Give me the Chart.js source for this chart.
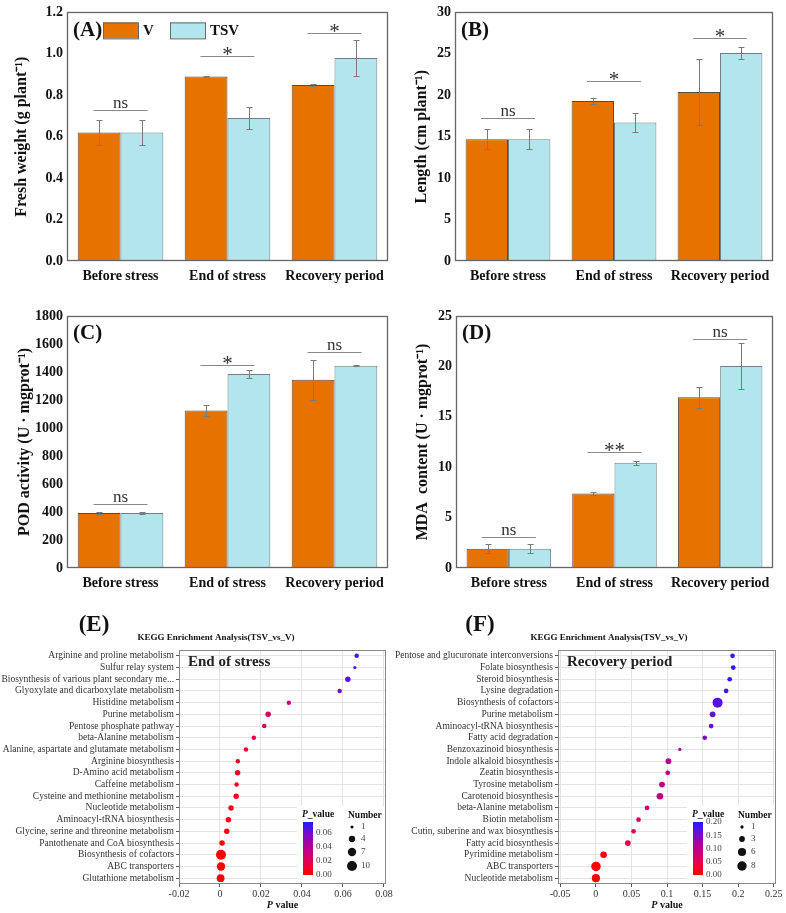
<!DOCTYPE html>
<html>
<head>
<meta charset="utf-8">
<script src="https://cdn.jsdelivr.net/npm/chart.js@4.4.1/dist/chart.umd.min.js"></script>
<style>
html, body { margin: 0; padding: 0; background: #fff; }
#page { position: relative; width: 786px; height: 913px; overflow: hidden; }
canvas { position: absolute; }
</style>
</head>
<body>
<div id="page">
  <canvas id="chartA" width="393" height="292" style="left:0;top:0"></canvas>
  <canvas id="chartB" width="393" height="292" style="left:393px;top:0"></canvas>
  <canvas id="chartC" width="393" height="300" style="left:0;top:300px"></canvas>
  <canvas id="chartD" width="393" height="300" style="left:393px;top:300px"></canvas>
  <canvas id="chartE" width="400" height="313" style="left:0;top:600px"></canvas>
  <canvas id="chartF" width="393" height="313" style="left:393px;top:600px"></canvas>
</div>
<script>
const SERIF = "'Liberation Serif', 'Times New Roman', serif";
const orange = '#E67200';
const lightBlue = '#B3E5EC';

// Shared categories
const groups = ['Before stress', 'End of stress', 'Recovery period'];
const seriesNames = ['V', 'TSV'];

// (A) Fresh weight
const weightV = [0.62, 0.89, 0.85];
const weightVErr = [0.06, 0.003, 0.005];
const weightTSV = [0.62, 0.69, 0.98];
const weightTSVErr = [0.06, 0.055, 0.085];
const weightSig = ['ns', '*', '*'];
const weightSigAt = [0.73, 0.99, 1.10];

// (B) Length
const lengthV = [14.7, 19.3, 20.4];
const lengthVErr = [1.2, 0.35, 4.0];
const lengthTSV = [14.7, 16.7, 25.1];
const lengthTSVErr = [1.2, 1.1, 0.7];
const lengthSig = ['ns', '*', '*'];
const lengthSigAt = [17.3, 21.7, 26.9];

// (C) POD activity
const podV = [393, 1125, 1345];
const podVErr = [5, 37, 143];
const podTSV = [393, 1385, 1445];
const podTSVErr = [5, 29, 5];
const podSig = ['ns', '*', 'ns'];
const podSigAt = [460, 1450, 1543];

// (D) MDA content
const mdaV = [1.9, 7.4, 16.95];
const mdaVErr = [0.45, 0.15, 1.05];
const mdaTSV = [1.9, 10.43, 20.03];
const mdaTSVErr = [0.45, 0.2, 2.25];
const mdaSig = ['ns', '**', 'ns'];
const mdaSigAt = [3.08, 11.46, 22.68];

// (E) KEGG, end of stress
const endPathways = [
  'Arginine and proline metabolism',
  'Sulfur relay system',
  'Biosynthesis of various plant secondary me...',
  'Glyoxylate and dicarboxylate metabolism',
  'Histidine metabolism',
  'Purine metabolism',
  'Pentose phosphate pathway',
  'beta-Alanine metabolism',
  'Alanine, aspartate and glutamate metabolism',
  'Arginine biosynthesis',
  'D-Amino acid metabolism',
  'Caffeine metabolism',
  'Cysteine and methionine metabolism',
  'Nucleotide metabolism',
  'Aminoacyl-tRNA biosynthesis',
  'Glycine, serine and threonine metabolism',
  'Pantothenate and CoA biosynthesis',
  'Biosynthesis of cofactors',
  'ABC transporters',
  'Glutathione metabolism'
];
const endPValue = [0.0667, 0.0658, 0.0624, 0.0584, 0.0336, 0.0235, 0.0216, 0.0165, 0.0127, 0.0087,
  0.0086, 0.0081, 0.0079, 0.0054, 0.0041, 0.0033, 0.0010, 0.0005, 0.0005, 0.0003];
const endCount = [2, 1, 3, 2, 2, 3, 2, 2, 2, 2, 3, 2, 3, 3, 3, 3, 3, 10, 7, 6];
const endColorTicks = [0, 0.02, 0.04, 0.06];
const endSizeTicks = [1, 4, 7, 10];

// (F) KEGG, recovery period
const recPathways = [
  'Pentose and glucuronate interconversions',
  'Folate biosynthesis',
  'Steroid biosynthesis',
  'Lysine degradation',
  'Biosynthesis of cofactors',
  'Purine metabolism',
  'Aminoacyl-tRNA biosynthesis',
  'Fatty acid degradation',
  'Benzoxazinoid biosynthesis',
  'Indole alkaloid biosynthesis',
  'Zeatin biosynthesis',
  'Tyrosine metabolism',
  'Carotenoid biosynthesis',
  'beta-Alanine metabolism',
  'Biotin metabolism',
  'Cutin, suberine and wax biosynthesis',
  'Fatty acid biosynthesis',
  'Pyrimidine metabolism',
  'ABC transporters',
  'Nucleotide metabolism'
];
const recPValue = [0.192, 0.193, 0.188, 0.183, 0.171, 0.164, 0.162, 0.153, 0.118, 0.102,
  0.101, 0.093, 0.090, 0.072, 0.060, 0.053, 0.045, 0.011, 0.0003, 0.0002];
const recCount = [2, 2, 2, 2, 9, 3, 2, 2, 1, 3, 2, 3, 4, 2, 2, 2, 3, 4, 8, 6];
const recColorTicks = [0, 0.05, 0.10, 0.15, 0.20];
const recSizeTicks = [1, 3, 6, 8];

// red -> blue gradient for p values
const pStops = [[0, [255, 0, 0]], [0.25, [226, 0, 82]], [0.5, [186, 0, 140]], [0.75, [128, 10, 196]], [1, [30, 30, 255]]];
function pColor(t) {
  t = Math.max(0, Math.min(1, t));
  for (let i = 1; i < pStops.length; i++) {
    if (t <= pStops[i][0]) {
      const [t0, c0] = pStops[i - 1], [t1, c1] = pStops[i];
      const f = (t - t0) / (t1 - t0);
      const c = c0.map((v, k) => Math.round(v + (c1[k] - v) * f));
      return `rgb(${c[0]},${c[1]},${c[2]})`;
    }
  }
  return 'rgb(30,30,255)';
}

// Plugins
const framePlugin = (color, width) => ({
  id: 'frame',
  afterDraw(chart) {
    const { ctx, chartArea: a } = chart;
    ctx.save();
    ctx.strokeStyle = color;
    ctx.lineWidth = width;
    ctx.strokeRect(Math.round(a.left) + 0.5, Math.round(a.top) + 0.5, Math.round(a.right - a.left) - 1, Math.round(a.bottom - a.top) - 1);
    ctx.restore();
  }
});

const errorBarPlugin = {
  id: 'errorBars',
  afterDatasetsDraw(chart) {
    const { ctx } = chart;
    const y = chart.scales.y;
    ctx.save();
    ctx.strokeStyle = '#7a7a7a';
    ctx.lineWidth = 1;
    chart.data.datasets.forEach((ds, di) => {
      chart.getDatasetMeta(di).data.forEach((bar, i) => {
        const v = ds.data[i], e = ds.errors[i];
        const top = Math.round(y.getPixelForValue(v + e)) + 0.5;
        const bot = Math.round(y.getPixelForValue(v - e)) + 0.5;
        const x = Math.round(bar.x) + 0.5;
        ctx.beginPath();
        ctx.moveTo(x, top); ctx.lineTo(x, bot);
        ctx.moveTo(x - 3, top); ctx.lineTo(x + 3, top);
        ctx.moveTo(x - 3, bot); ctx.lineTo(x + 3, bot);
        ctx.stroke();
      });
    });
    ctx.restore();
  }
};

function sigPlugin(labels, heights) {
  return {
    id: 'sig',
    afterDatasetsDraw(chart) {
      const { ctx, scales: { x, y } } = chart;
      ctx.save();
      labels.forEach((lab, i) => {
        const cx = x.getPixelForValue(i);
        const ly = Math.round(y.getPixelForValue(heights[i])) + 0.5;
        ctx.strokeStyle = '#8a8a8a';
        ctx.lineWidth = 1;
        ctx.beginPath();
        ctx.moveTo(cx - 27, ly); ctx.lineTo(cx + 27, ly);
        ctx.stroke();
        ctx.fillStyle = '#333';
        ctx.textAlign = 'center';
        ctx.textBaseline = 'alphabetic';
        if (lab === 'ns') {
          ctx.font = '17px ' + SERIF;
          ctx.fillText(lab, cx, ly - 2.5);
        } else {
          ctx.font = '21px ' + SERIF;
          ctx.fillText(lab, cx, ly + 4.5);
        }
      });
      ctx.restore();
    }
  };
}

function panelLabel(text, withLegend) {
  return {
    id: 'panelLabel',
    afterDraw(chart) {
      const { ctx, chartArea: a } = chart;
      ctx.save();
      ctx.fillStyle = '#111';
      ctx.textBaseline = 'middle';
      ctx.textAlign = 'left';
      ctx.font = 'bold 21px ' + SERIF;
      ctx.fillText(text, a.left + 6, a.top + 18);
      if (withLegend) {
        const boxes = [a.left + 36, a.left + 103];
        chart.data.datasets.forEach((ds, i) => {
          ctx.fillStyle = ds.backgroundColor;
          ctx.fillRect(boxes[i], a.top + 10, 35, 16);
          ctx.strokeStyle = '#666';
          ctx.lineWidth = 1;
          ctx.strokeRect(boxes[i] + 0.5, a.top + 10.5, 35, 16);
          ctx.fillStyle = '#111';
          ctx.font = 'bold 15px ' + SERIF;
          ctx.fillText(ds.label, boxes[i] + 40, a.top + 19);
        });
      }
      ctx.restore();
    }
  };
}

function barChart(id, cfg) {
  return new Chart(document.getElementById(id), {
    type: 'bar',
    data: {
      labels: groups,
      datasets: [
        { label: seriesNames[0], data: cfg.v, errors: cfg.vErr, backgroundColor: orange, borderColor: '#5d4a3c', borderWidth: 1 },
        { label: seriesNames[1], data: cfg.tsv, errors: cfg.tsvErr, backgroundColor: lightBlue, borderColor: '#6f7f83', borderWidth: 1 }
      ]
    },
    options: {
      responsive: false,
      animation: false,
      events: [],
      layout: { padding: cfg.pad },
      datasets: { bar: { categoryPercentage: 0.8, barPercentage: 1.0 } },
      plugins: { legend: { display: false }, tooltip: { enabled: false } },
      scales: {
        x: {
          grid: { display: false, drawTicks: false },
          border: { display: false },
          ticks: { color: '#111', font: { family: SERIF, weight: 'bold', size: 14 }, padding: 7, maxRotation: 0, autoSkip: false },
          afterFit: s => { s.height = cfg.xHeight; }
        },
        y: {
          min: 0, max: cfg.max,
          grid: { display: false, drawTicks: false },
          border: { display: false },
          ticks: { stepSize: cfg.step, color: '#111', font: { family: SERIF, weight: 'bold', size: 14 }, padding: 4,
            callback: v => Number(v).toFixed(cfg.dec) },
          title: { display: true, text: cfg.title, color: '#111', font: { family: SERIF, weight: 'bold', size: 16 },
            padding: { top: cfg.titlePad, bottom: 0 } },
          afterFit: s => { s.width = cfg.yWidth; }
        }
      }
    },
    plugins: [errorBarPlugin, sigPlugin(cfg.sig, cfg.sigAt), panelLabel(cfg.label, cfg.legend), framePlugin('#666', 1.3)]
  });
}

barChart('chartA', {
  v: weightV, vErr: weightVErr, tsv: weightTSV, tsvErr: weightTSVErr, sig: weightSig, sigAt: weightSigAt,
  max: 1.2, step: 0.2, dec: 1, title: 'Fresh weight (g plant\u207B\u00B9)', titlePad: 12,
  pad: { top: 10, right: 5, left: 0, bottom: 0 }, xHeight: 31, yWidth: 67, label: '(A)', legend: true
});
barChart('chartB', {
  v: lengthV, vErr: lengthVErr, tsv: lengthTSV, tsvErr: lengthTSVErr, sig: lengthSig, sigAt: lengthSigAt,
  max: 30, step: 5, dec: 0, title: 'Length (cm plant\u207B\u00B9)', titlePad: 19,
  pad: { top: 10, right: 13, left: 0, bottom: 0 }, xHeight: 31, yWidth: 62, label: '(B)'
});
barChart('chartC', {
  v: podV, vErr: podVErr, tsv: podTSV, tsvErr: podTSVErr, sig: podSig, sigAt: podSigAt,
  max: 1800, step: 200, dec: 0, title: 'POD activity (U \u00B7 mgprot\u207B\u00B9)', titlePad: 15,
  pad: { top: 16, right: 5, left: 0, bottom: 0 }, xHeight: 32, yWidth: 67, label: '(C)'
});
barChart('chartD', {
  v: mdaV, vErr: mdaVErr, tsv: mdaTSV, tsvErr: mdaTSVErr, sig: mdaSig, sigAt: mdaSigAt,
  max: 25, step: 5, dec: 0, title: 'MDA  content (U \u00B7 mgprot\u207B\u00B9)', titlePad: 20,
  pad: { top: 16, right: 13, left: 0, bottom: 0 }, xHeight: 32, yWidth: 63, label: '(D)'
});

function keggDecor(cfg) {
  return {
    id: 'kegg',
    afterDraw(chart) {
      const { ctx, chartArea: a } = chart;
      ctx.save();
      ctx.fillStyle = '#111';
      ctx.textBaseline = 'middle';
      ctx.textAlign = 'center';
      ctx.font = 'bold 23px ' + SERIF;
      ctx.fillText(cfg.label, cfg.labelX, 25);
      ctx.font = 'bold 9px ' + SERIF;
      ctx.fillText('KEGG Enrichment Analysis(TSV_vs_V)', 216, 38);
      ctx.textAlign = 'left';
      ctx.font = 'bold 15px ' + SERIF;
      ctx.fillStyle = '#222';
      ctx.fillText(cfg.period, a.left + 9, a.top + 12);

      // x axis title
      ctx.fillStyle = '#111';
      ctx.font = 'italic bold 10px ' + SERIF;
      const wP = ctx.measureText('P').width;
      ctx.font = 'bold 10px ' + SERIF;
      const wRest = ctx.measureText(' value').width;
      const cx = (a.left + a.right) / 2;
      const x0 = cx - (wP + wRest) / 2;
      ctx.font = 'italic bold 10px ' + SERIF;
      ctx.fillText('P', x0, a.bottom + 21);
      ctx.font = 'bold 10px ' + SERIF;
      ctx.fillText(' value', x0 + wP, a.bottom + 21);

      // legend background
      ctx.fillStyle = '#fff';
      ctx.fillRect(a.right - 89, a.bottom - 78, 88, 77);

      // colour bar
      const barX = a.right - 83, barBot = a.bottom - 9, barTop = a.bottom - 62;
      const g = ctx.createLinearGradient(0, barBot, 0, barTop);
      pStops.forEach(([t, c]) => g.addColorStop(t, `rgb(${c[0]},${c[1]},${c[2]})`));
      ctx.fillStyle = g;
      ctx.fillRect(barX, barTop, 10, barBot - barTop);
      ctx.fillStyle = '#444';
      ctx.font = '9px ' + SERIF;
      cfg.colorTicks.forEach(v => {
        const yy = barBot - (v / cfg.pMax) * (barBot - barTop);
        ctx.fillText(v.toFixed(2), barX + 13, yy);
      });
      ctx.fillStyle = '#111';
      ctx.font = 'italic bold 9.5px ' + SERIF;
      ctx.fillText('P', barX - 1, a.bottom - 69);
      const wp2 = ctx.measureText('P').width;
      ctx.font = 'bold 9.5px ' + SERIF;
      ctx.fillText('_value', barX - 1 + wp2, a.bottom - 69);

      // size legend
      ctx.fillText('Number', a.right - 38, a.bottom - 68);
      const dy = [57, 45, 32, 18];
      cfg.sizeTicks.forEach((n, i) => {
        ctx.fillStyle = '#111';
        ctx.beginPath();
        ctx.arc(a.right - 34, a.bottom - dy[i], cfg.rMax * Math.sqrt(n / cfg.nMax), 0, Math.PI * 2);
        ctx.fill();
        ctx.fillStyle = '#444';
        ctx.font = '9px ' + SERIF;
        ctx.fillText(String(n), a.right - 25, a.bottom - dy[i]);
      });
      ctx.restore();
    }
  };
}

function dotChart(id, cfg) {
  return new Chart(document.getElementById(id), {
    type: 'bubble',
    data: {
      datasets: [{
        data: cfg.paths.map((p, i) => ({ x: cfg.p[i], y: p, r: cfg.rMax * Math.sqrt(cfg.n[i] / cfg.nMax) })),
        backgroundColor: c => pColor(cfg.p[c.dataIndex] / cfg.pMax),
        borderWidth: 0
      }]
    },
    options: {
      responsive: false,
      animation: false,
      events: [],
      layout: { padding: cfg.pad },
      plugins: { legend: { display: false }, tooltip: { enabled: false } },
      scales: {
        x: {
          type: 'linear', min: cfg.xMin, max: cfg.xMax,
          grid: { color: '#e4e4e4', tickColor: '#555', tickLength: 3 },
          border: { display: false },
          ticks: { stepSize: cfg.xStep, includeBounds: false, color: '#333', font: { family: SERIF, size: 10 }, padding: 1,
            callback: v => String(+Number(v).toFixed(4)) },
          afterFit: s => { s.height = 29; }
        },
        y: {
          type: 'category', labels: cfg.paths, offset: true,
          grid: { color: '#e4e4e4', tickColor: '#555', tickLength: 3 },
          border: { display: false },
          ticks: { autoSkip: false, color: '#333', font: { family: SERIF, size: 9.5 }, padding: 2 },
          afterFit: s => { s.width = cfg.yWidth; }
        }
      }
    },
    plugins: [keggDecor(cfg), framePlugin('#888', 1)]
  });
}

dotChart('chartE', {
  paths: endPathways, p: endPValue, n: endCount, pMax: 0.0757, nMax: 10, rMax: 5,
  xMin: -0.02, xMax: 0.081, xStep: 0.02, yWidth: 179,
  pad: { top: 50, right: 14, left: 0, bottom: 0 },
  label: '(E)', labelX: 94, period: 'End of stress', colorTicks: endColorTicks, sizeTicks: endSizeTicks
});
dotChart('chartF', {
  paths: recPathways, p: recPValue, n: recCount, pMax: 0.2, nMax: 9, rMax: 5,
  xMin: -0.053, xMax: 0.253, xStep: 0.05, yWidth: 165,
  pad: { top: 50, right: 10, left: 0, bottom: 0 },
  label: '(F)', labelX: 87, period: 'Recovery period', colorTicks: recColorTicks, sizeTicks: recSizeTicks
});
</script>
</body>
</html>
